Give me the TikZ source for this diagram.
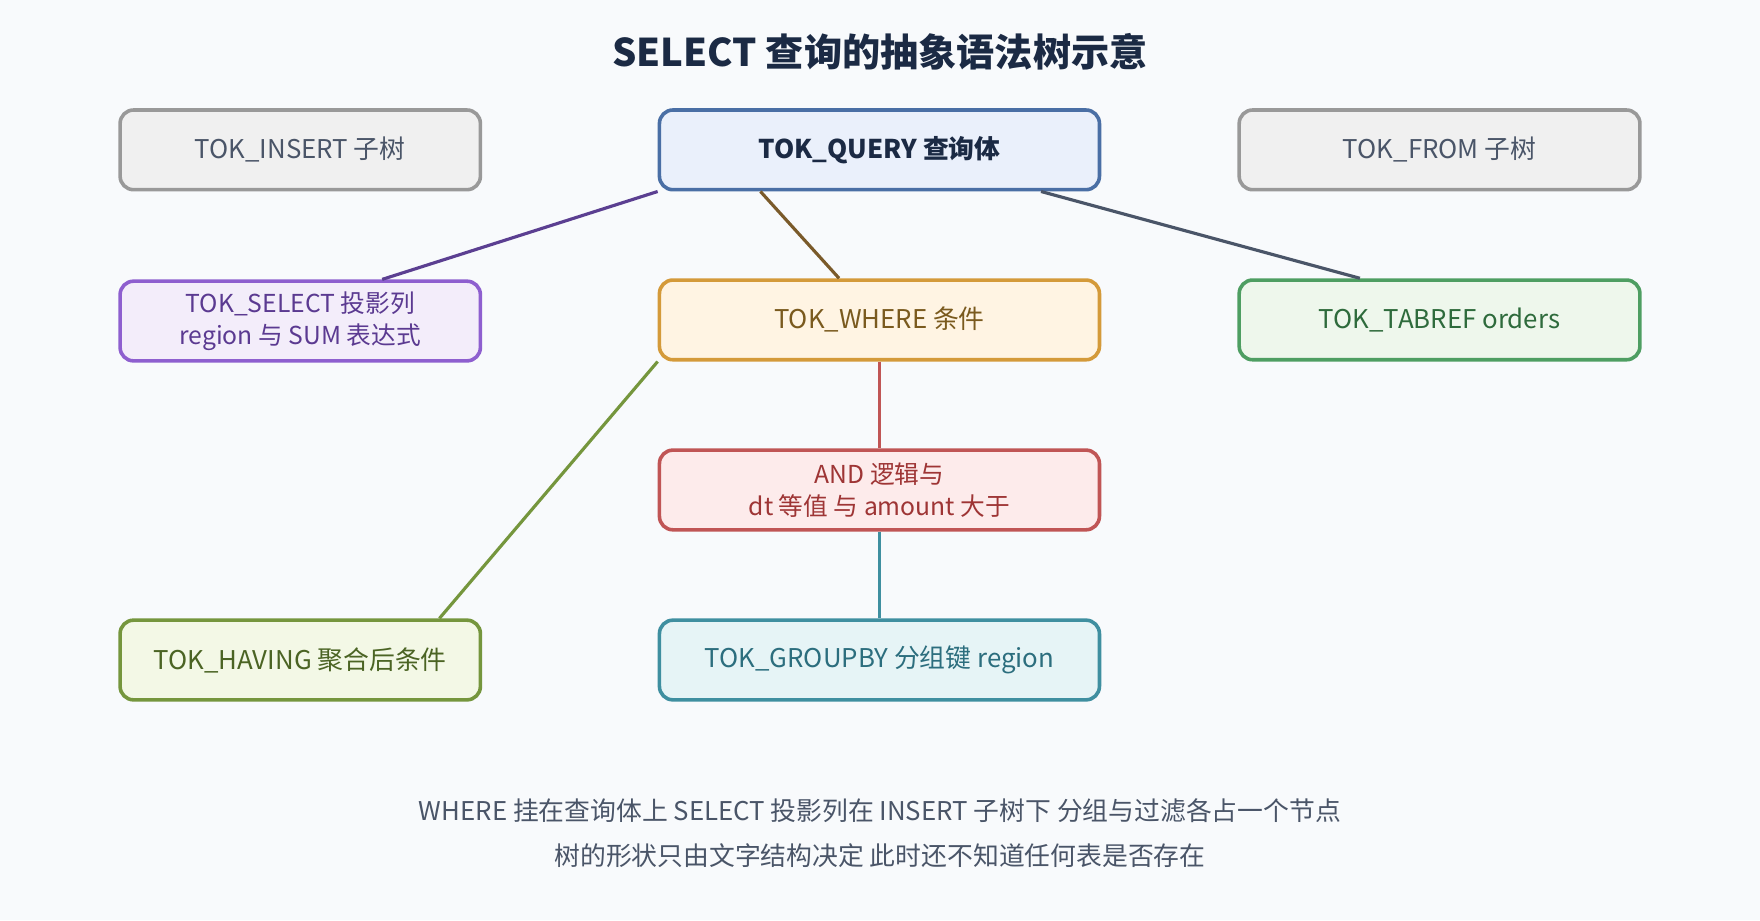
\documentclass[tikz,border=0pt]{standalone}
\usepackage{fontspec}
\setmainfont{Noto Sans CJK SC}
\usepackage{tikz}
\usetikzlibrary{positioning}
\definecolor{bg}{HTML}{F8FAFC}
\definecolor{slate}{HTML}{4A5568}
\tikzset{
  box/.style={draw,rounded corners=6pt,line width=1.6pt,minimum width=196pt,minimum height=35.5pt,inner sep=0pt,align=center,font=\fontsize{11.5}{14}\selectfont},
  wide/.style={box,minimum width=178.5pt},
  small/.style={box,minimum width=160.5pt},
  edge/.style={draw,line width=1.4pt,-}
}
\begin{document}
\begin{tikzpicture}[x=0.5pt,y=-0.5pt]
  \fill[bg] (0,0) rectangle (1568,820);
  \useasboundingbox (0,0) rectangle (1568,820);
  \node[font=\fontsize{17}{20}\selectfont\bfseries,text={rgb,255:red,27;green,42;blue,68}] (title) at (784,46) {SELECT 查询的抽象语法树示意};
  % first row
  \node[small,fill=black!6,draw=black!40,text=slate] (insert) at (267.5,133.5) {TOK\_INSERT 子树};
  \node[box,fill={rgb,255:red,234;green,240;blue,251},draw={rgb,255:red,74;green,111;blue,165},text={rgb,255:red,27;green,42;blue,68},font=\fontsize{11.5}{14}\selectfont\bfseries] (query) at (783.5,133.5) {TOK\_QUERY 查询体};
  \node[wide,fill=black!6,draw=black!40,text=slate] (from) at (1282.5,133.5) {TOK\_FROM 子树};
  % second row
  \node[small,fill={rgb,255:red,243;green,237;blue,250},draw={rgb,255:red,142;green,95;blue,207},text={rgb,255:red,91;green,58;blue,145},font=\fontsize{11}{14}\selectfont] (select) at (267.5,286) {TOK\_SELECT 投影列\\region 与 SUM 表达式};
  \node[box,fill={rgb,255:red,255;green,244;blue,227},draw={rgb,255:red,212;green,154;blue,58},text={rgb,255:red,122;green,90;blue,30}] (where) at (783.5,285) {TOK\_WHERE 条件};
  \node[wide,fill={rgb,255:red,238;green,247;blue,236},draw={rgb,255:red,78;green,158;blue,98},text={rgb,255:red,46;green,107;blue,60}] (tabref) at (1282.5,285) {TOK\_TABREF orders};
  \node[box,fill={rgb,255:red,253;green,235;blue,235},draw={rgb,255:red,192;green,85;blue,85},text={rgb,255:red,158;green,53;blue,53},font=\fontsize{11}{14}\selectfont] (and) at (783.5,436.5) {AND 逻辑与\\dt 等值 与 amount 大于};
  % last row
  \node[small,fill={rgb,255:red,243;green,248;blue,230},draw={rgb,255:red,117;green,150;blue,61},text={rgb,255:red,75;green,100;blue,36}] (having) at (267.5,588) {TOK\_HAVING 聚合后条件};
  \node[box,fill={rgb,255:red,230;green,244;blue,246},draw={rgb,255:red,63;green,143;blue,160},text={rgb,255:red,44;green,110;blue,126}] (groupby) at (783.5,588) {TOK\_GROUPBY 分组键 region};
  % edges
  \draw[edge,draw={rgb,255:red,91;green,63;blue,145}] (query.south west) -- ([xshift=36.5pt]select.north);
  \draw[edge,draw={rgb,255:red,122;green,90;blue,42}] ([xshift=-53pt]query.south) -- ([xshift=-18pt]where.north);
  \draw[edge,draw=slate] ([xshift=72pt]query.south) -- ([xshift=-35.5pt]tabref.north);
  \draw[edge,draw={rgb,255:red,117;green,150;blue,61}] (where.south west) -- ([xshift=62pt]having.north);
  \draw[edge,draw={rgb,255:red,192;green,85;blue,85}] (where) -- (and);
  \draw[edge,draw={rgb,255:red,63;green,143;blue,160}] (and) -- (groupby);
  \node[text=slate,align=center,font=\fontsize{11.5}{20}\selectfont] (note) at (784,742) {WHERE 挂在查询体上 SELECT 投影列在 INSERT 子树下 分组与过滤各占一个节点\\树的形状只由文字结构决定 此时还不知道任何表是否存在};
\end{tikzpicture}
\end{document}
